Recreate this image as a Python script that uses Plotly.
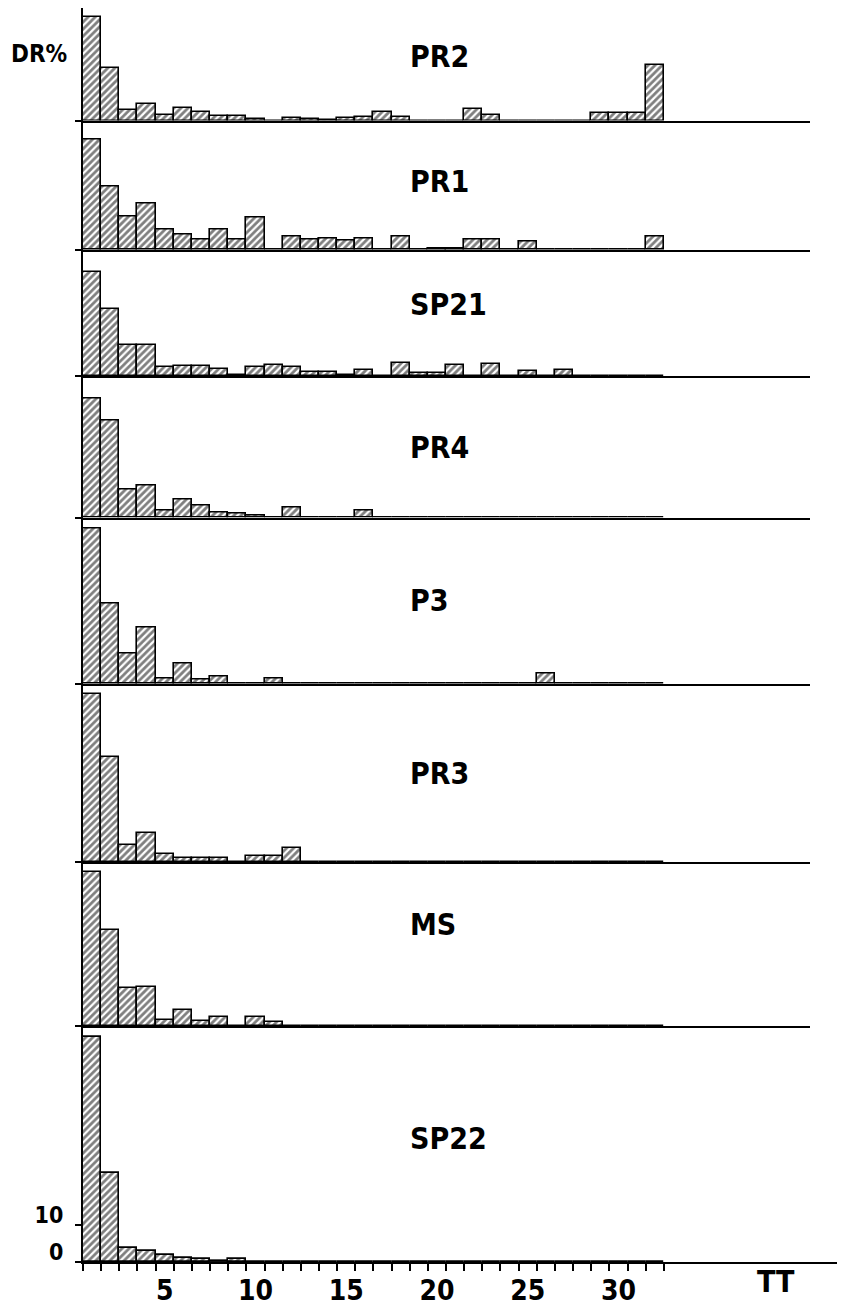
import plotly.graph_objects as go

# ---------------- data (DR % per TT class) ----------------
tt_bins = list(range(1, 33))
panel_names = ["PR2", "PR1", "SP21", "PR4", "P3", "PR3", "MS", "SP22"]

PR2 = [27.7, 14.0, 2.9, 4.5, 1.5, 3.5, 2.2, 1.2, 1.2, 0.5, 0.0, 0.7, 0.4, 0.2, 0.8, 0.9,
       2.4, 0.9, 0.0, 0.0, 0.0, 3.0, 1.5, 0.0, 0.0, 0.0, 0.0, 0.0, 2.1, 2.1, 2.1, 14.9]
PR1 = [29.6, 16.9, 8.9, 12.4, 5.5, 4.2, 2.9, 5.5, 2.9, 8.8, 0.0, 3.7, 2.7, 3.1, 2.4, 3.0,
       0.0, 3.7, 0.0, 0.3, 0.3, 2.8, 2.8, 0.0, 2.3, 0.0, 0.0, 0.0, 0.0, 0.0, 0.0, 3.7]
SP21 = [27.9, 18.1, 8.5, 8.5, 2.5, 2.8, 2.8, 2.0, 0.4, 2.5, 3.1, 2.4, 1.3, 1.3, 0.3, 1.6,
        0.0, 3.7, 0.8, 0.8, 3.0, 0.0, 3.2, 0.0, 1.4, 0.0, 1.7, 0.0, 0.0, 0.0, 0.0, 0.0]
PR4 = [31.7, 25.9, 7.4, 8.5, 1.8, 4.9, 3.3, 1.4, 1.0, 0.5, 0.0, 2.6, 0.0, 0.0, 0.0, 1.9,
       0.0, 0.0, 0.0, 0.0, 0.0, 0.0, 0.0, 0.0, 0.0, 0.0, 0.0, 0.0, 0.0, 0.0, 0.0, 0.0]
P3 = [41.5, 21.6, 8.2, 15.2, 1.5, 5.5, 1.2, 1.9, 0.0, 0.0, 1.5, 0.0, 0.0, 0.0, 0.0, 0.0,
      0.0, 0.0, 0.0, 0.0, 0.0, 0.0, 0.0, 0.0, 0.0, 2.9, 0.0, 0.0, 0.0, 0.0, 0.0, 0.0]
PR3 = [45.0, 28.1, 4.6, 7.8, 2.2, 1.1, 1.1, 1.1, 0.0, 1.5, 1.5, 3.8, 0.0, 0.0, 0.0, 0.0,
       0.0, 0.0, 0.0, 0.0, 0.0, 0.0, 0.0, 0.0, 0.0, 0.0, 0.0, 0.0, 0.0, 0.0, 0.0, 0.0]
MS = [41.1, 25.6, 10.0, 10.4, 1.7, 4.2, 1.3, 2.4, 0.0, 2.4, 1.1, 0.0, 0.0, 0.0, 0.0, 0.0,
      0.0, 0.0, 0.0, 0.0, 0.0, 0.0, 0.0, 0.0, 0.0, 0.0, 0.0, 0.0, 0.0, 0.0, 0.0, 0.0]
SP22 = [60.1, 23.7, 3.8, 3.0, 2.0, 1.0, 0.7, 0.3, 0.7, 0.0, 0.0, 0.0, 0.0, 0.0, 0.0, 0.0,
        0.0, 0.0, 0.0, 0.0, 0.0, 0.0, 0.0, 0.0, 0.0, 0.0, 0.0, 0.0, 0.0, 0.0, 0.0, 0.0]

series = [PR2, PR1, SP21, PR4, P3, PR3, MS, SP22]
x_tick_vals = [5, 10, 15, 20, 25, 30]
x_tick_text = ["5", "10", "15", "20", "25", "30"]
y_tick_vals = [0, 10]
y_tick_text = ["0", "10"]

# ---------------- layout constants (window pixels) ----------------
WIN_W, WIN_H = 845, 1311
BODY_OFFSET = 8                      # default page margin before the figure
W, H = WIN_W - BODY_OFFSET, WIN_H - BODY_OFFSET
AX_LEFT_PX = 83
AX_RIGHT_BOTTOM_PX = 845
AX_RIGHT_UPPER_PX = 810
PLOT_TOP_PX = 8
PLOT_BOTTOM_PX = 1262
panel_top = [30.1, 34.6, 33.8, 37.7, 44.5, 47.6, 43.8, 63.1]   # y-range top of each panel (%)
x_start = 0.5
px_per_unit = 18.15
label_px_y = [56.5, 181.5, 304, 447.5, 600, 773.5, 924, 1138]
label_px_x = 408
FONT = "Liberation Sans Narrow, DejaVu Sans Condensed, Arial Narrow, sans-serif"

def paper_x(px):
    return (px - BODY_OFFSET) / W
def paper_y(py):
    return (WIN_H - py) / H

fig = go.Figure()
total = sum(panel_top)
n = len(series)
cum = 0.0
plot_h = PLOT_BOTTOM_PX - PLOT_TOP_PX
x_end_bottom = x_start + (AX_RIGHT_BOTTOM_PX - AX_LEFT_PX) / px_per_unit
x_end_upper = x_start + (AX_RIGHT_UPPER_PX - AX_LEFT_PX) / px_per_unit
for i, vals in enumerate(series):
    k = i + 1
    top_px = PLOT_TOP_PX + cum / total * plot_h
    cum += panel_top[i]
    bot_px = PLOT_TOP_PX + cum / total * plot_h
    xa = "x" if k == 1 else f"x{k}"
    ya = "y" if k == 1 else f"y{k}"
    fig.add_trace(go.Bar(
        x=tt_bins, y=vals, xaxis=xa, yaxis=ya, width=1, showlegend=False,
        marker=dict(color="white", line=dict(color="black", width=1.6),
                    pattern=dict(shape="/", fgcolor="#000000", bgcolor="white",
                                 size=5, solidity=0.55, fillmode="overlay")),
    ))
    last = (i == n - 1)
    xkey = "xaxis" if k == 1 else f"xaxis{k}"
    ykey = "yaxis" if k == 1 else f"yaxis{k}"
    right_px = AX_RIGHT_BOTTOM_PX if last else AX_RIGHT_UPPER_PX
    xa_dict = dict(domain=[paper_x(AX_LEFT_PX), min(1.0, paper_x(right_px))],
                   range=[x_start, x_end_bottom if last else x_end_upper],
                   anchor=ya, showline=True, linecolor="black", linewidth=2,
                   showgrid=False, zeroline=False, ticks="", fixedrange=True,
                   automargin=False)
    if last:
        xa_dict.update(tickmode="array", tickvals=x_tick_vals, ticktext=x_tick_text,
                       tickfont=dict(family=FONT, size=28, color="black", weight="bold"),
                       ticklabelstandoff=2,
                       minor=dict(tickmode="array",
                                  tickvals=[b - 0.5 for b in tt_bins] + [tt_bins[-1] + 0.5],
                                  ticks="outside", ticklen=7, tickwidth=1.5,
                                  tickcolor="black", showgrid=False))
    else:
        xa_dict.update(showticklabels=False)
    fig.layout[xkey] = xa_dict
    ya_dict = dict(domain=[paper_y(bot_px), min(1.0, paper_y(top_px))], range=[0, panel_top[i]],
                   anchor=xa, showline=True, linecolor="black", linewidth=2,
                   showgrid=False, zeroline=False, ticks="outside", ticklen=6,
                   tickwidth=1.5, tickcolor="black", fixedrange=True, automargin=False)
    if last:
        ya_dict.update(tickmode="array", tickvals=y_tick_vals, ticktext=y_tick_text,
                       tickfont=dict(family=FONT, size=23, color="black", weight="bold"),
                       ticklabelstandoff=7, ticklabelshift=-10)
    else:
        ya_dict.update(tickmode="array", tickvals=[0], showticklabels=False)
    fig.layout[ykey] = ya_dict

    fig.add_annotation(text=panel_names[i], xref="paper", yref="paper",
                       x=paper_x(label_px_x), y=paper_y(label_px_y[i]),
                       xanchor="left", yanchor="middle", showarrow=False,
                       font=dict(family=FONT, size=30, color="black", weight="bold"))

fig.add_annotation(text="DR%", xref="paper", yref="paper", x=paper_x(39), y=paper_y(54),
                   xanchor="center", yanchor="middle", showarrow=False,
                   font=dict(family=FONT, size=24, color="black", weight="bold"))
fig.add_annotation(text="TT", xref="paper", yref="paper", x=paper_x(776), y=paper_y(1281),
                   xanchor="center", yanchor="middle", showarrow=False,
                   font=dict(family=FONT, size=30, color="black", weight="bold"))

fig.update_layout(width=W, height=H, margin=dict(l=0, r=0, t=0, b=0),
                  paper_bgcolor="white", plot_bgcolor="white", bargap=0)
fig.write_html("out.html")
